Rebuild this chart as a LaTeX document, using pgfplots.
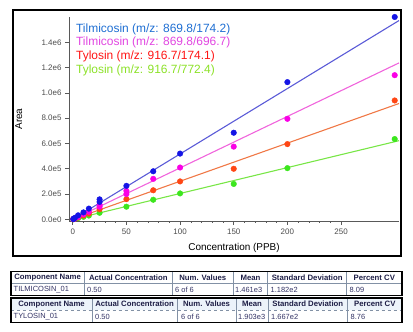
\documentclass[border=0pt]{standalone}
\usepackage{fontspec}
\setmainfont{Liberation Sans}
\usepackage{pgfplots}
\pgfplotsset{compat=1.18}
\definecolor{blueM}{RGB}{20,20,230}
\definecolor{blueL}{RGB}{90,90,215}
\definecolor{magM}{RGB}{250,0,230}
\definecolor{magL}{RGB}{240,100,220}
\definecolor{redM}{RGB}{255,70,20}
\definecolor{redL}{RGB}{240,120,70}
\definecolor{grnM}{RGB}{60,230,30}
\definecolor{grnL}{RGB}{120,230,70}
\definecolor{blueT}{RGB}{30,110,210}
\definecolor{magT}{RGB}{225,70,225}
\definecolor{redT}{RGB}{255,20,20}
\definecolor{grnT}{RGB}{140,225,40}
\definecolor{hdr}{RGB}{30,30,70}
\definecolor{dat}{RGB}{50,50,100}
\definecolor{grid}{RGB}{130,145,165}
\definecolor{hdrbg}{RGB}{236,243,250}
\begin{document}
\begin{tikzpicture}[x=1bp,y=1bp]
\path (0,0) rectangle (413,332);
\draw[line width=2.6bp] (13,322) rectangle (401,76);
\begin{axis}[
  scale only axis, width=330bp, height=204bp,
  at={(69bp,111bp)}, anchor=south west,
  xmin=-3.5, xmax=304, ymin=-1.3e4, ymax=1.6e6,
  axis lines=left,
  axis line style={-, black!65, line width=0.8pt},
  xtick={0,50,100,150,200,250}, minor x tick num=4,
  ytick={0,2e5,4e5,6e5,8e5,1e6,1.2e6,1.4e6},
  yticklabels={0.0e0,2.0e5,4.0e5,6.0e5,8.0e5,1.0e6,1.2e6,1.4e6},
  scaled y ticks=false,
  tick align=outside,
  major tick length=4bp, minor tick length=2bp,
  every tick/.style={black!65, line width=0.6pt},
  /pgf/number format/assume math mode=true,
  tick label style={font=\fontsize{8}{9}\selectfont, text=black!70},
  xlabel={Concentration (PPB)}, ylabel={Area},
  label style={font=\fontsize{8}{9}\selectfont, text=black!70},
  every axis x label/.style={at={(axis description cs:0.5,-0.131)}, anchor=center},
  every axis y label/.style={at={(axis description cs:-0.152,0.5)}, anchor=center, rotate=90},
  clip=false,
]
% regression lines
\addplot[grnL, line width=1.1pt, no marks] coordinates {(0,0) (304,6.22e5)};
\addplot[redL, line width=1.1pt, no marks] coordinates {(0,0) (304,9.16e5)};
\addplot[magL, line width=1.1pt, no marks] coordinates {(0,0) (304,1.237e6)};
\addplot[blueL, line width=1.1pt, no marks] coordinates {(0,0) (304,1.572e6)};
% points
\addplot[only marks, mark=*, mark size=2.8bp, grnM] coordinates {
(0.5,1e3) (1,2e3) (2,4e3) (5,1e4) (10,2e4) (15,3e4) (25,5.2e4) (50,1.0e5) (75,1.55e5) (100,2.05e5) (150,2.8e5) (200,4.05e5) (300,6.35e5)};
\addplot[only marks, mark=*, mark size=2.8bp, redM] coordinates {
(0.5,1.5e3) (1,3e3) (2,6e3) (5,1.5e4) (10,3e4) (15,4.5e4) (25,8e4) (50,1.6e5) (75,2.3e5) (100,3.0e5) (150,4.0e5) (200,5.95e5) (300,9.4e5)};
\addplot[only marks, mark=*, mark size=2.8bp, magM] coordinates {
(0.5,2e3) (1,4e3) (2,8e3) (5,2e4) (10,4e4) (15,6e4) (25,1.0e5) (25,1.15e5) (50,2.0e5) (50,2.25e5) (75,3.2e5) (100,4.1e5) (150,5.75e5) (200,7.95e5) (300,1.14e6)};
\addplot[only marks, mark=*, mark size=2.8bp, blueM] coordinates {
(0.5,2.5e3) (1,5e3) (2,1.2e4) (5,3.2e4) (10,5.5e4) (15,8.5e4) (25,1.38e5) (25,1.58e5) (50,2.65e5) (75,3.8e5) (100,5.2e5) (150,6.85e5) (200,1.085e6) (300,1.6e6)};
% legend text
\begin{scope}[every node/.style={anchor=west, font=\fontsize{12}{13}\selectfont, inner sep=0pt}]
\node[text=blueT] at (axis description cs:0.021,0.941) {Tilmicosin (m/z: 869.8/174.2)};
\node[text=magT] at (axis description cs:0.021,0.874) {Tilmicosin (m/z: 869.8/696.7)};
\node[text=redT] at (axis description cs:0.021,0.805) {Tylosin (m/z: 916.7/174.1)};
\node[text=grnT] at (axis description cs:0.021,0.737) {Tylosin (m/z: 916.7/772.4)};
\end{scope}
\end{axis}
% ---- table 1 ----
\begin{scope}[every node/.style={inner sep=0pt}]
\draw[grid, line width=0.5pt] (11,48.3) -- (402,48.3);
\foreach \xx in {84.3,172.3,233.3,267.7,346.7} {\draw[grid, line width=0.5pt] (\xx,60.7) -- (\xx,36.7);}
\draw[black, line width=1.1pt] (11,60.7) rectangle (402,36.7);
\begin{scope}[every node/.style={inner sep=0pt, anchor=center, text=hdr, font=\fontsize{7.8}{8}\selectfont\bfseries}]
\node at (47.6,54.5) {Component Name};
\node at (128.3,54.5) {Actual Concentration};
\node at (202.8,54.5) {Num. Values};
\node at (250.5,54.5) {Mean};
\node at (307.2,54.5) {Standard Deviation};
\node at (374.3,54.5) {Percent CV};
\end{scope}
\begin{scope}[every node/.style={inner sep=0pt, anchor=west, text=dat, font=\fontsize{7.5}{8}\selectfont}]
\node at (13.5,42.5) {TILMICOSIN\_01};
\node at (87,42.5) {0.50};
\node at (175,42.5) {6 of 6};
\node at (235,42.5) {1.461e3};
\node at (270.5,42.5) {1.182e2};
\node at (349.5,42.5) {8.09};
\end{scope}
% ---- table 2 ----
\fill[hdrbg] (11,34) rectangle (402,21.7);
\draw[grid, line width=0.5pt, dashed] (11,21.7) -- (402,21.7);
\foreach \xx in {92,177.3,236,268,347.7} {\draw[grid, line width=0.5pt] (\xx,34) -- (\xx,9.3);}
\draw[black, line width=1.1pt] (11,34) rectangle (402,9.3);
\begin{scope}[every node/.style={inner sep=0pt, anchor=center, text=hdr, font=\fontsize{7.8}{8}\selectfont\bfseries}]
\node at (51.5,27.85) {Component Name};
\node at (134.6,27.85) {Actual Concentration};
\node at (206.6,27.85) {Num. Values};
\node at (252,27.85) {Mean};
\node at (307.8,27.85) {Standard Deviation};
\node at (374.8,27.85) {Percent CV};
\end{scope}
\begin{scope}[every node/.style={inner sep=0pt, anchor=west, text=dat, font=\fontsize{7.5}{8}\selectfont}]
\node at (13.5,15.5) {TYLOSIN\_01};
\node at (95,15.5) {0.50};
\node at (181,15.5) {6 of 6};
\node at (238,15.5) {1.903e3};
\node at (271,15.5) {1.667e2};
\node at (350.5,15.5) {8.76};
\end{scope}
\end{scope}
\end{tikzpicture}
\end{document}
